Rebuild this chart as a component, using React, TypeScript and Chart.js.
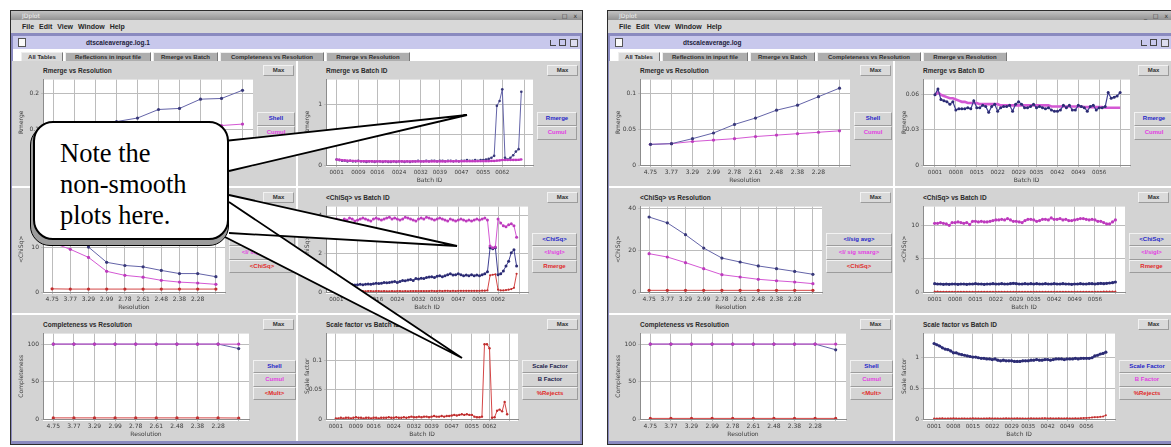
import React, { useEffect, useRef } from 'react';
import { Chart, registerables } from 'chart.js';
Chart.register(...registerables);

// ---------------- data ----------------
const resolutionLabels = ['4.75', '3.77', '3.29', '2.99', '2.78', '2.61', '2.48', '2.38', '2.28', ''];
const batchTickIdsLeft = [1, 9, 16, 24, 32, 39, 47, 55, 62, 70];
const batchTickIdsRight = [1, 8, 15, 22, 29, 35, 42, 49, 56, 63];

// left window: dtscaleaverage.log.1
const leftRmergeShell = [0.085, 0.1, 0.11, 0.122, 0.132, 0.156, 0.159, 0.185, 0.187, 0.21];
const leftRmergeCumul = [0.06, 0.07, 0.078, 0.085, 0.09, 0.095, 0.1, 0.106, 0.111, 0.115];
const leftChiIsigAvg = [17.5, 14.5, 10.0, 6.6, 5.9, 5.6, 4.8, 4.1, 4.1, 3.4];
const leftChiIsigSmarg = [11, 9.5, 7.7, 4.6, 3.7, 3.3, 2.6, 2.2, 2.0, 1.7];
const leftChiChisq = [0.7, 0.65, 0.65, 0.65, 0.65, 0.65, 0.65, 0.65, 0.65, 0.65];
const leftComplShell = [100, 100, 100, 100, 100, 100, 100, 100, 100, 94];
const leftComplCumul = [100, 100, 100, 100, 100, 100, 100, 100, 100, 100];
const leftComplMult = [1.5, 1.5, 1.5, 1.5, 1.5, 1.5, 1.5, 1.5, 1.5, 1.3];

const leftBatchRmerge = [
  0.09, 0.08, 0.07, 0.07, 0.06, 0.07, 0.06, 0.06, 0.07, 0.06,
  0.06, 0.05, 0.06, 0.06, 0.05, 0.06, 0.06, 0.05, 0.06, 0.05,
  0.05, 0.06, 0.05, 0.06, 0.06, 0.05, 0.06, 0.05, 0.06, 0.06,
  0.07, 0.06, 0.06, 0.07, 0.06, 0.07, 0.07, 0.06, 0.07, 0.07,
  0.06, 0.07, 0.07, 0.06, 0.07, 0.06, 0.07, 0.07, 0.08, 0.07,
  0.07, 0.08, 0.07, 0.08, 0.08, 0.09, 0.10, 0.12, 0.15, 0.97,
  1.05, 1.24, 0.12, 0.09, 0.12, 0.16, 0.22, 0.26, 1.2,
];
const leftBatchCumul = [
  0.09, 0.085, 0.08, 0.076, 0.072, 0.07, 0.068, 0.066, 0.065, 0.064,
  0.063, 0.062, 0.062, 0.061, 0.061, 0.06, 0.06, 0.06, 0.06, 0.06,
  0.06, 0.06, 0.06, 0.06, 0.06, 0.06, 0.06, 0.06, 0.06, 0.06,
  0.06, 0.06, 0.06, 0.06, 0.06, 0.061, 0.061, 0.061, 0.061, 0.061,
  0.061, 0.062, 0.062, 0.062, 0.062, 0.062, 0.062, 0.063, 0.063, 0.063,
  0.063, 0.063, 0.064, 0.064, 0.064, 0.065, 0.065, 0.066, 0.066, 0.072,
  0.076, 0.082, 0.082, 0.082, 0.082, 0.083, 0.083, 0.084, 0.092,
];
const leftBatchIsig = [
  3.8, 3.75, 3.7, 3.8, 3.75, 3.85, 3.8, 3.7, 3.75, 3.8,
  3.85, 3.8, 3.75, 3.7, 3.8, 3.85, 3.8, 3.75, 3.8, 3.85,
  3.9, 3.8, 3.85, 3.8, 3.75, 3.8, 3.9, 3.85, 3.8, 3.75,
  3.7, 3.8, 3.85, 3.8, 3.9, 3.85, 3.8, 3.75, 3.8, 3.85,
  3.8, 3.75, 3.7, 3.8, 3.75, 3.7, 3.75, 3.8, 3.75, 3.7,
  3.75, 3.7, 3.75, 3.8, 3.75, 3.8, 3.85, 3.75, 2.4, 2.3,
  2.35, 3.8, 3.6, 3.45, 3.4, 3.5, 3.55, 3.45, 2.85,
];
const leftBatchChisq = [
  0.45, 0.4, 0.4, 0.38, 0.4, 0.37, 0.38, 0.36, 0.38, 0.4,
  0.38, 0.4, 0.42, 0.4, 0.43, 0.45, 0.44, 0.46, 0.5, 0.48,
  0.5, 0.52, 0.55, 0.5, 0.55, 0.6, 0.58, 0.62, 0.65, 0.6,
  0.7, 0.68, 0.72, 0.7, 0.75, 0.78, 0.8, 0.75, 0.82, 0.85,
  0.8, 0.85, 0.9, 0.95, 0.88, 0.9, 0.95, 0.9, 0.85, 0.88,
  0.85, 0.9, 0.85, 0.88, 0.85, 0.9, 0.95, 1.05, 2.3, 2.25,
  2.3, 0.9, 0.95, 1.1, 1.35, 1.6, 2.05, 2.2, 1.35,
];
const leftBatchRmergeInChi = [
  0.06, 0.05, 0.05, 0.05, 0.04, 0.05, 0.05, 0.04, 0.05, 0.05,
  0.05, 0.04, 0.05, 0.05, 0.04, 0.05, 0.05, 0.04, 0.05, 0.04,
  0.04, 0.05, 0.04, 0.05, 0.05, 0.04, 0.05, 0.04, 0.05, 0.05,
  0.05, 0.05, 0.05, 0.05, 0.05, 0.05, 0.06, 0.05, 0.05, 0.06,
  0.05, 0.06, 0.06, 0.05, 0.06, 0.05, 0.06, 0.06, 0.06, 0.06,
  0.06, 0.06, 0.06, 0.06, 0.06, 0.07, 0.07, 0.08, 0.87, 0.9,
  0.92, 0.12, 0.08, 0.08, 0.1, 0.12, 0.15, 0.22, 0.95,
];
const leftBatchRejects = [
  0.001, 0.001, 0.002, 0.001, 0.002, 0.002, 0.001, 0.002, 0.003, 0.002,
  0.002, 0.001, 0.002, 0.002, 0.001, 0.002, 0.002, 0.001, 0.002, 0.002,
  0.002, 0.003, 0.002, 0.002, 0.003, 0.002, 0.002, 0.003, 0.002, 0.003,
  0.004, 0.003, 0.003, 0.004, 0.003, 0.004, 0.004, 0.003, 0.004, 0.005,
  0.004, 0.004, 0.005, 0.004, 0.005, 0.005, 0.006, 0.007, 0.006, 0.007,
  0.008, 0.007, 0.008, 0.007, 0.007, 0.004, 0.003, 0.003, 0.004, 0.127,
  0.127, 0.12, 0.002, 0.003, 0.014, 0.016, 0.013, 0.029, 0.008,
];

// right window: dtscaleaverage.log
const rightRmergeShell = [0.029, 0.030, 0.037, 0.045, 0.057, 0.066, 0.077, 0.084, 0.096, 0.108];
const rightRmergeCumul = [0.029, 0.030, 0.033, 0.035, 0.037, 0.040, 0.042, 0.044, 0.046, 0.048];
const rightChiIsigAvg = [36.0, 33.2, 27.5, 21.1, 16.3, 14.4, 12.5, 11.2, 9.9, 8.5];
const rightChiIsigSmarg = [18.4, 16.8, 14.1, 11.2, 8.3, 7.2, 6.1, 5.4, 4.8, 4.0];
const rightChiChisq = [0.8, 0.8, 0.8, 0.8, 0.8, 0.8, 0.8, 0.8, 0.8, 0.8];
const rightComplShell = [100, 100, 100, 100, 100, 100, 100, 100, 100, 92.4];
const rightComplCumul = [100, 100, 100, 100, 100, 100, 100, 100, 100, 100];
const rightComplMult = [0.8, 0.8, 0.8, 0.8, 0.8, 0.8, 0.8, 0.8, 0.8, 0.8];

const rightBatchRmerge = [
  0.060, 0.065, 0.056, 0.055, 0.054, 0.052, 0.054, 0.047, 0.048, 0.048,
  0.048, 0.049, 0.048, 0.055, 0.049, 0.049, 0.051, 0.050, 0.045, 0.050,
  0.052, 0.046, 0.049, 0.050, 0.050, 0.051, 0.046, 0.052, 0.054, 0.052,
  0.049, 0.049, 0.050, 0.052, 0.049, 0.050, 0.049, 0.048, 0.049, 0.047,
  0.046, 0.046, 0.047, 0.051, 0.049, 0.051, 0.047, 0.047, 0.051, 0.050,
  0.049, 0.046, 0.050, 0.051, 0.047, 0.049, 0.049, 0.050, 0.062, 0.057,
  0.058, 0.059, 0.062,
];
const rightBatchCumul = [
  0.060, 0.062, 0.060, 0.059, 0.058, 0.057, 0.057, 0.056, 0.055, 0.054,
  0.054, 0.053, 0.053, 0.053, 0.053, 0.052, 0.052, 0.052, 0.052, 0.052,
  0.052, 0.052, 0.051, 0.051, 0.051, 0.051, 0.051, 0.051, 0.051, 0.051,
  0.051, 0.051, 0.051, 0.051, 0.051, 0.051, 0.051, 0.051, 0.051, 0.050,
  0.050, 0.050, 0.050, 0.050, 0.050, 0.050, 0.050, 0.050, 0.050, 0.050,
  0.0495, 0.0495, 0.0495, 0.0495, 0.0495, 0.0495, 0.0495, 0.049, 0.049, 0.049,
  0.049, 0.049, 0.049,
];
const rightBatchIsig = [
  10.3, 10.3, 10.4, 10.3, 10.2, 10.0, 10.4, 10.4, 10.5, 10.4,
  10.3, 10.4, 10.1, 10.6, 10.6, 10.5, 10.6, 10.5, 10.5, 10.6,
  10.7, 10.8, 10.8, 10.9, 10.8, 11.0, 10.8, 10.6, 10.6, 10.5,
  10.4, 10.7, 10.9, 10.9, 10.8, 10.6, 10.7, 10.9, 10.9, 10.8,
  11.1, 10.9, 10.9, 11.0, 10.8, 10.9, 10.7, 10.7, 10.8, 10.9,
  11.0, 11.0, 10.9, 10.8, 10.9, 10.8, 10.6, 10.6, 10.4, 10.2,
  10.2, 10.5, 10.8,
];
const rightBatchChisq = [
  1.25, 1.2, 1.2, 1.15, 1.2, 1.15, 1.2, 1.2, 1.15, 1.2,
  1.2, 1.15, 1.2, 1.2, 1.25, 1.2, 1.2, 1.15, 1.2, 1.2,
  1.25, 1.2, 1.2, 1.25, 1.2, 1.2, 1.25, 1.3, 1.25, 1.2,
  1.2, 1.25, 1.2, 1.25, 1.2, 1.25, 1.2, 1.2, 1.25, 1.2,
  1.2, 1.25, 1.2, 1.2, 1.25, 1.2, 1.2, 1.15, 1.2, 1.2,
  1.25, 1.2, 1.2, 1.25, 1.25, 1.2, 1.25, 1.3, 1.25, 1.3,
  1.35, 1.4, 1.5,
];
const rightBatchScale = [
  1.22, 1.20, 1.18, 1.15, 1.13, 1.12, 1.10, 1.07, 1.07, 1.05,
  1.04, 1.03, 1.02, 1.01, 1.00, 1.00, 0.99, 0.98, 0.98, 0.97,
  0.97, 0.96, 0.97, 0.95, 0.94, 0.95, 0.94, 0.94, 0.94, 0.93,
  0.93, 0.93, 0.94, 0.94, 0.94, 0.95, 0.95, 0.96, 0.95, 0.95,
  0.96, 0.96, 0.95, 0.96, 0.97, 0.97, 0.97, 0.96, 0.97, 0.97,
  0.97, 0.98, 0.97, 0.98, 0.98, 0.98, 0.98, 0.99, 1.02, 1.03,
  1.05, 1.06, 1.08,
];
const rightBatchRejects = [
  0.01, 0.008, 0.01, 0.012, 0.008, 0.01, 0.01, 0.012, 0.01, 0.008,
  0.01, 0.01, 0.008, 0.01, 0.012, 0.01, 0.01, 0.008, 0.01, 0.01,
  0.012, 0.01, 0.01, 0.01, 0.008, 0.01, 0.012, 0.01, 0.01, 0.01,
  0.012, 0.01, 0.01, 0.008, 0.01, 0.012, 0.01, 0.01, 0.01, 0.012,
  0.014, 0.01, 0.012, 0.01, 0.01, 0.012, 0.01, 0.01, 0.012, 0.01,
  0.01, 0.012, 0.01, 0.014, 0.016, 0.018, 0.02, 0.025, 0.03, 0.03,
  0.035, 0.04, 0.06,
];

// ---------------- styles ----------------
const BLUE = { line: '#6464a8', pt: '#38387a' };
const NAVY = { line: '#3e3e92', pt: '#2c2c74' };
const MAG = { line: '#d458d4', pt: '#bd3abd' };
const RED = { line: '#d44646', pt: '#c02e2e' };
const LEG_BLUE = '#2626c8';
const LEG_MAG = '#e23ee2';
const LEG_RED = '#e02a2a';
const LEG_DARK = '#22224c';

const GRID = '#bcbcbc';
const AXIS = '#8c8c8c';
const TXT = '#3c3c3c';
const SANS = "'DejaVu Sans', sans-serif";
const BOLD = "'Liberation Sans', Arial, sans-serif";
const TICK_FONT = { family: SANS, size: 6 };
const BATCH_TICK_FONT = { family: SANS, size: 5.6 };

type Series = { data: number[]; line: string; pt: string; w: number; r: number };
type Spec = {
  title: string; yTitle: string; xTitle: string; kind: 'res' | 'batch';
  series: Series[]; yMax: number; yTicks: number[]; plotW: number; btnW: number;
  legend: [string, string][];
};

const S = (data: number[], c: { line: string; pt: string }, w = 1, r = 1.6): Series => ({ data, line: c.line, pt: c.pt, w, r });

function fmt(v: number) {
  return String(parseFloat(Number(v).toFixed(4)));
}

const whiteArea = {
  id: 'whiteArea',
  beforeDraw(chart: any) {
    const { ctx, chartArea: a } = chart;
    ctx.save();
    ctx.fillStyle = '#ffffff';
    ctx.fillRect(a.left, a.top, a.right - a.left, a.bottom - a.top + 2);
    ctx.restore();
  },
};

function PlotCanvas(props: { spec: Spec; yW: number; ticksX: number[]; xMin: number; xMax: number; left: number; top: number; width: number; height: number }) {
  const { spec, yW, ticksX, xMin, xMax, left, top, width, height } = props;
  const ref = useRef<HTMLCanvasElement>(null);
  useEffect(() => {
    const isBatch = spec.kind === 'batch';
    const lastTick = ticksX[ticksX.length - 1];
    const xTitle = { display: true, text: spec.xTitle, font: TICK_FONT, color: TXT, padding: { top: 0, bottom: 2 } };
    const xScale: any = isBatch
      ? {
          type: 'linear', min: xMin, max: xMax,
          afterBuildTicks: (sc: any) => { sc.ticks = ticksX.map((v) => ({ value: v })); },
          ticks: {
            autoSkip: false, maxRotation: 0, font: BATCH_TICK_FONT, color: TXT, padding: 2,
            callback: (v: any) => (v === lastTick ? '' : String(v).padStart(4, '0')),
          },
          grid: { color: GRID, tickLength: 2 },
          border: { color: AXIS },
          title: xTitle,
          afterFit: (sc: any) => { sc.height = 21; },
        }
      : {
          type: 'category', offset: true,
          ticks: { autoSkip: false, maxRotation: 0, font: TICK_FONT, color: TXT, padding: 2 },
          grid: { color: GRID, tickLength: 2, offset: false },
          border: { color: AXIS },
          title: xTitle,
          afterFit: (sc: any) => { sc.height = 21; },
        };
    const chart = new Chart(ref.current as HTMLCanvasElement, {
      type: 'line',
      data: {
        labels: isBatch ? undefined : resolutionLabels,
        datasets: spec.series.map((s) => ({
          data: (isBatch ? s.data.map((v, i) => ({ x: i + 1, y: v })) : s.data) as any,
          borderColor: s.line,
          backgroundColor: s.pt,
          pointBackgroundColor: s.pt,
          pointBorderColor: s.pt,
          pointBorderWidth: 0,
          pointRadius: s.r,
          borderWidth: s.w,
          tension: 0,
          fill: false,
        })),
      },
      options: {
        animation: false,
        responsive: false,
        events: [],
        layout: { padding: { top: 4, right: 2, left: 0, bottom: 0 } },
        plugins: { legend: { display: false }, tooltip: { enabled: false }, title: { display: false } },
        scales: {
          x: xScale,
          y: {
            type: 'linear', min: 0, max: spec.yMax,
            afterBuildTicks: (sc: any) => { sc.ticks = spec.yTicks.map((v) => ({ value: v })); },
            ticks: { font: TICK_FONT, color: TXT, padding: 2, callback: (v: any) => fmt(v) },
            grid: { color: GRID, tickLength: 2 },
            border: { color: AXIS },
            title: { display: true, text: spec.yTitle, font: TICK_FONT, color: TXT, padding: { top: 4, bottom: 0 } },
            afterFit: (sc: any) => { sc.width = yW; },
          } as any,
        },
      },
      plugins: [whiteArea],
    });
    return () => chart.destroy();
  }, []);
  return (
    <canvas ref={ref} width={width} height={height}
      style={{ position: 'absolute', left, top, width, height }} />
  );
}

const btnStyle: React.CSSProperties = {
  position: 'absolute', boxSizing: 'border-box', background: '#d4d4d4',
  borderTop: '1px solid #f2f2f2', borderLeft: '1px solid #f2f2f2',
  borderBottom: '1px solid #9c9c9c', borderRight: '1px solid #9c9c9c',
  fontFamily: BOLD, fontWeight: 'bold', fontSize: 6, textAlign: 'center', whiteSpace: 'nowrap', overflow: 'hidden',
};

function Panel(props: { x: number; w: number; top: number; h: number; yW: number; spec: Spec; ticksX: number[]; xMin: number; xMax: number }) {
  const { x, w, top, h, yW, spec, ticksX, xMin, xMax } = props;
  const canvasW = yW + spec.plotW + 2;
  const btnLeft = 2 + canvasW;
  const btnH = 13.6;
  const btnTop = 65 - (spec.legend.length * btnH) / 2;
  return (
    <div style={{ position: 'absolute', left: x, top, width: w, height: h, background: '#d3d3d3', overflow: 'hidden' }}>
      <div style={{ position: 'absolute', left: yW + 2, top: 5, fontFamily: BOLD, fontWeight: 'bold', fontSize: 6.5, lineHeight: '9px', color: '#2a2a2a', whiteSpace: 'nowrap' }}>{spec.title}</div>
      <div style={{ ...btnStyle, right: 2, top: 4, width: 31, height: 11, lineHeight: '9px', color: '#333', background: '#dadada' }}>Max</div>
      <PlotCanvas spec={spec} yW={yW} ticksX={ticksX} xMin={xMin} xMax={xMax} left={2} top={13} width={canvasW} height={112} />
      {spec.legend.map(([t, c], i) => (
        <div key={i} style={{ ...btnStyle, left: btnLeft, top: btnTop + i * btnH, width: spec.btnW, height: btnH, lineHeight: `${btnH - 2}px`, color: c }}>{t}</div>
      ))}
    </div>
  );
}

function Win(props: { wx: number; ww: number; title: string; specs: Spec[]; ticksX: number[]; xMin: number; xMax: number }) {
  const { wx, ww, title, specs, ticksX, xMin, xMax } = props;
  const col1X = wx + 2, col1W = 284;
  const col2X = wx + 288, col2W = ww - 291;
  const rows: [number, number][] = [[61, 125], [188, 125], [315, 126]];
  const tabs: [string, number, number][] = [
    ['All Tables', 8, 42], ['Reflections in input file', 52, 86], ['Rmerge vs Batch', 140, 65],
    ['Completeness vs Resolution', 207, 104], ['Rmerge vs Resolution', 313, 84],
  ];
  const abs = (l: number, t: number, w: number, h: number, extra: React.CSSProperties = {}): React.CSSProperties => ({ position: 'absolute', left: l, top: t, width: w, height: h, boxSizing: 'border-box', ...extra });
  return (
    <>
      <div style={abs(wx, 10, ww, 435, { background: '#8a8abf', border: '1px solid #2c2c2c' })} />
      <div style={abs(wx + 1, 11, ww - 2, 9, { background: 'linear-gradient(#c2c2c2,#929292)' })}>
        <span style={{ position: 'absolute', left: 11, top: 0, fontFamily: SANS, fontSize: 6, lineHeight: '9px', color: '#efefef' }}>JDplot</span>
        <span style={{ position: 'absolute', right: 3, top: 0, fontFamily: SANS, fontSize: 6, lineHeight: '9px', color: '#333', letterSpacing: 2 }}>_ □ x</span>
      </div>
      <div style={abs(wx + 1, 20, ww - 2, 13, { background: '#d8d8d8' })}>
        <span style={{ position: 'absolute', left: 11, top: 0, fontFamily: BOLD, fontWeight: 'bold', fontSize: 7, lineHeight: '13px', color: '#262626', wordSpacing: 3, whiteSpace: 'nowrap' }}>File Edit View Window Help</span>
      </div>
      <div style={abs(wx + 3, 36, ww - 6, 13, { background: '#c8c8ec' })}>
        <div style={abs(5, 1.5, 8, 9, { background: '#fafafa', border: '1px solid #555' })} />
        <span style={{ position: 'absolute', left: 73, top: 0, fontFamily: BOLD, fontWeight: 'bold', fontSize: 6.5, lineHeight: '13px', color: '#22223a', whiteSpace: 'nowrap' }}>{title}</span>
        <div style={abs(ww - 36, 4, 6, 6, { border: '1px solid #444', borderTop: 'none', borderRight: 'none' })} />
        <div style={abs(ww - 27, 3, 7, 7, { border: '1px solid #444' })} />
        <div style={abs(ww - 16, 2.5, 8, 8, { border: '1px solid #555', background: '#dcdcf0' })} />
      </div>
      <div style={abs(wx + 3, 49, ww - 6, 12, { background: '#ffffff' })}>
        {tabs.map(([t, l, w], i) => (
          <div key={i} style={abs(l, 2.5, w, 9.5, {
            background: i === 0 ? '#dadada' : '#aeaeae', borderTop: '1px solid #eee', borderLeft: '1px solid #eee', borderRight: '1px solid #777',
            fontFamily: BOLD, fontWeight: 'bold', fontSize: 6, lineHeight: '8px', textAlign: 'center', color: '#2c2c2c', whiteSpace: 'nowrap', overflow: 'hidden',
          })}>{t}</div>
        ))}
      </div>
      <div style={abs(wx + 2, 61, ww - 5, 380, { background: '#ffffff' })} />
      {specs.map((sp, i) => {
        const col = i % 2;
        const row = Math.floor(i / 2);
        return (
          <Panel key={i} x={col === 0 ? col1X : col2X} w={col === 0 ? col1W : col2W} top={rows[row][0]} h={rows[row][1]}
            yW={col === 0 ? 29 : 26} spec={sp} ticksX={ticksX} xMin={xMin} xMax={xMax} />
        );
      })}
    </>
  );
}

function makeSpecs(side: 'L' | 'R'): Spec[] {
  const L = side === 'L';
  return [
    {
      title: 'Rmerge vs Resolution', yTitle: 'Rmerge', xTitle: 'Resolution', kind: 'res',
      series: [S(L ? leftRmergeShell : rightRmergeShell, BLUE), S(L ? leftRmergeCumul : rightRmergeCumul, MAG)],
      yMax: L ? 0.24 : 0.12, yTicks: L ? [0, 0.1, 0.2] : [0, 0.05, 0.1], plotW: 212, btnW: 38,
      legend: [['Shell', LEG_BLUE], ['Cumul', LEG_MAG]],
    },
    {
      title: 'Rmerge vs Batch ID', yTitle: 'Rmerge', xTitle: 'Batch ID', kind: 'batch',
      series: L
        ? [S(leftBatchCumul, MAG, 2.2, 1.2), S(leftBatchRmerge, BLUE, 1, 1.3)]
        : [S(rightBatchRmerge, NAVY, 1.2, 1.5), S(rightBatchCumul, MAG, 2.6, 0)],
      yMax: L ? 1.4 : 0.073, yTicks: L ? [0, 0.5, 1] : [0, 0.03, 0.06], plotW: 209, btnW: 40,
      legend: [['Rmerge', LEG_BLUE], ['Cumul', LEG_MAG]],
    },
    {
      title: '<ChiSq> vs Resolution', yTitle: '<ChiSq>', xTitle: 'Resolution', kind: 'res',
      series: [S(L ? leftChiIsigAvg : rightChiIsigAvg, BLUE), S(L ? leftChiIsigSmarg : rightChiIsigSmarg, MAG), S(L ? leftChiChisq : rightChiChisq, RED)],
      yMax: L ? 19 : 41, yTicks: L ? [0, 10] : [0, 20, 40], plotW: 184, btnW: 66,
      legend: [['<I/sig avg>', LEG_BLUE], ['<I/ sig smarg>', LEG_MAG], ['<ChiSq>', LEG_RED]],
    },
    {
      title: '<ChiSq> vs Batch ID', yTitle: '<ChiSq>', xTitle: 'Batch ID', kind: 'batch',
      series: L
        ? [S(leftBatchIsig, MAG, 1, 1.5), S(leftBatchChisq, NAVY, 1, 1.5), S(leftBatchRmergeInChi, RED, 1, 1.1)]
        : [S(rightBatchIsig, MAG, 1.2, 1.6), S(rightBatchChisq, NAVY, 2, 1.6), S(rightBatchRmerge, RED, 1, 1)],
      yMax: L ? 4.45 : 12.8, yTicks: L ? [0, 2, 4] : [0, 5, 10], plotW: 204, btnW: 45,
      legend: [['<ChiSq>', LEG_BLUE], ['<I/sigI>', LEG_MAG], ['Rmerge', LEG_RED]],
    },
    {
      title: 'Completeness vs Resolution', yTitle: 'Completeness', xTitle: 'Resolution', kind: 'res',
      series: [S(L ? leftComplCumul : rightComplCumul, MAG), S(L ? leftComplShell : rightComplShell, BLUE), S(L ? leftComplMult : rightComplMult, RED)],
      yMax: 114, yTicks: [0, 50, 100], plotW: 208, btnW: 43,
      legend: [['Shell', LEG_BLUE], ['Cumul', LEG_MAG], ['<Mult>', LEG_RED]],
    },
    {
      title: 'Scale factor vs Batch ID', yTitle: 'Scale factor', xTitle: 'Batch ID', kind: 'batch',
      series: L ? [S(leftBatchRejects, RED, 1, 1.2)] : [S(rightBatchScale, NAVY, 2, 1.6), S(rightBatchRejects, RED, 1.2, 1)],
      yMax: L ? 0.145 : 1.38, yTicks: L ? [0, 0.05, 0.1] : [0, 0.5, 1], plotW: 194, btnW: 56,
      legend: L
        ? [['Scale Factor', LEG_DARK], ['B Factor', LEG_DARK], ['%Rejects', LEG_RED]]
        : [['Scale Factor', LEG_BLUE], ['B Factor', LEG_MAG], ['%Rejects', LEG_RED]],
    },
  ];
}

const wedges: [number, number][][] = [
  [[224, 141], [467, 115], [229, 171]],
  [[229, 202], [462, 358], [225, 237]],
  [[229, 195], [457, 246], [229, 233]],
];

export default function App() {
  return (
    <div style={{ position: 'absolute', left: 0, top: 0, width: 1171, height: 447, overflow: 'hidden', background: '#ffffff' }}>
      <Win wx={10} ww={573} title="dtscaleaverage.log.1" specs={makeSpecs('L')} ticksX={batchTickIdsLeft} xMin={-2.9} xMax={73.3} />
      <Win wx={607} ww={567} title="dtscaleaverage.log" specs={makeSpecs('R')} ticksX={batchTickIdsRight} xMin={-3} xMax={66.3} />
      <svg style={{ position: 'absolute', left: 0, top: 0 }} width={1171} height={447}>
        {wedges.map((w, i) => (
          <polygon key={'f' + i} points={w.map((p) => p.join(',')).join(' ')} fill="#ffffff" stroke="none" />
        ))}
        {wedges.map((w, i) => (
          <polyline key={'s' + i} points={w.map((p) => p.join(',')).join(' ')} fill="none" stroke="#000" strokeWidth={1.8} />
        ))}
      </svg>
      <div style={{ position: 'absolute', left: 30, top: 125, width: 199, height: 121, borderRadius: 20, background: '#9c9c9c', border: '1.5px solid #000', boxSizing: 'border-box' }} />
      <div style={{ position: 'absolute', left: 33, top: 121, width: 196, height: 119, borderRadius: 20, background: '#ffffff', border: '2.2px solid #000', boxSizing: 'border-box' }}>
        <div style={{ position: 'absolute', left: 25, top: 14.5, fontFamily: "'Liberation Serif', 'Times New Roman', serif", fontSize: 26.5, lineHeight: '31px', color: '#000', whiteSpace: 'nowrap' }}>
          Note the<br />non-smooth<br />plots here.
        </div>
      </div>
    </div>
  );
}
